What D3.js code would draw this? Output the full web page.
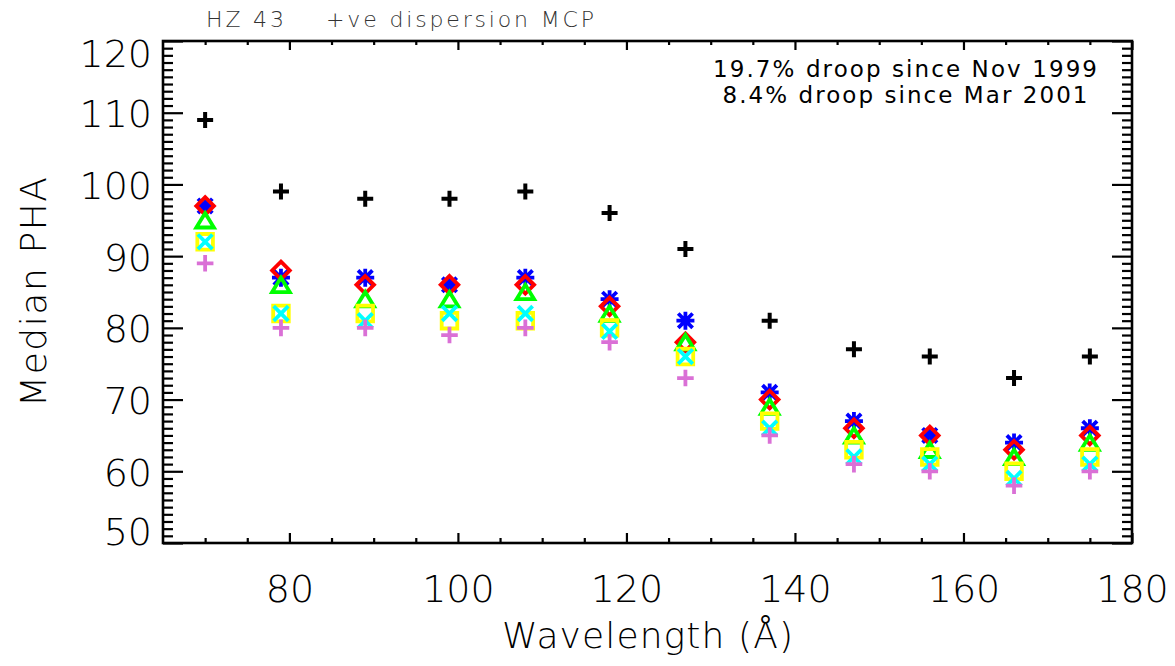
<!DOCTYPE html>
<html>
<head>
<meta charset="utf-8">
<script src="https://cdn.jsdelivr.net/npm/d3@7"></script>
<style>
  body { margin: 0; background: #fff; }
  svg { display: block; }
</style>
</head>
<body>
<div id="chart"></div>
<script>
// wavelengths of the measured bins (Angstrom)
var wavelength = [70, 79, 89, 99, 108, 118, 127, 137, 147, 156, 166, 175];

// median PHA, one list per epoch
var phaBlackPlus  = [109, 99, 98, 98, 99, 96, 91, 81, 77, 76, 73, 76];
var phaBlueStar   = [97, 87, 87, 86, 87, 84, 81, 71, 67, 65, 64, 66];
var phaRedDiamond = [97, 88, 86, 86, 86, 83, 78, 70, 66, 65, 63, 65];
var phaGreenTri   = [95, 86, 84, 84, 85, 82, 78, 69, 65, 63, 62, 64];
var phaYellowSq   = [92, 82, 82, 81, 81, 80, 76, 67, 63, 62, 60, 62];
var phaCyanX      = [92, 82, 81, 82, 82, 79.5, 76, 66, 62, 61, 59, 61];
var phaPurplePlus = [89, 80, 80, 79, 80, 78, 73, 65, 61, 60, 58, 60];

var xMajor = [80, 100, 120, 140, 160, 180];
var yMajor = [50, 60, 70, 80, 90, 100, 110, 120];

var titleText = "HZ 43    +ve dispersion MCP";
var noteLines = ["19.7% droop since Nov 1999", "8.4% droop since Mar 2001"];

var margin = {top: 41, right: 43, bottom: 123, left: 163},
    width = 1175 - margin.left - margin.right,
    height = 666 - margin.top - margin.bottom;

var x = d3.scaleLinear().domain([65, 180]).range([0, width]);
var y = d3.scaleLinear().domain([50, 120]).range([height, 0]);

var xMinor = d3.range(70, 180, 5).filter(function(d) { return d % 20 != 0; });
var yMinor = d3.range(51, 120, 1).filter(function(d) { return d % 10 != 0; });

var svg = d3.select("#chart").append("svg")
    .attr("width", 1175)
    .attr("height", 666);
svg.append("rect").attr("width", 1175).attr("height", 666).attr("fill", "#fff");

var g = svg.append("g")
    .attr("transform", "translate(" + margin.left + "," + margin.top + ")");

var tickFont = "'DejaVu Sans', sans-serif";

function styleTicks(sel) {
    sel.select(".domain").remove();
    sel.selectAll("line").attr("stroke", "#000").attr("stroke-width", 2.2);
}

// left axis (labels) + minor
g.append("g")
    .call(d3.axisLeft(y).tickValues(yMajor).tickSize(-20).tickPadding(11).tickFormat(d3.format("d")))
    .call(styleTicks)
    .call(function(s) {
        s.selectAll("text")
            .attr("font-family", tickFont)
            .attr("font-size", 38)
            .attr("font-weight", 200)
            .attr("fill", "#000")
            .attr("dy", function(d) {
                if (d == 120) return 25;
                if (d == 50) return 1;
                return 14;
            });
    });
g.append("g")
    .call(d3.axisLeft(y).tickValues(yMinor).tickSize(-10).tickFormat(""))
    .call(styleTicks);

// right axis
g.append("g").attr("transform", "translate(" + width + ",0)")
    .call(d3.axisRight(y).tickValues(yMajor).tickSize(-20).tickFormat(""))
    .call(styleTicks);
g.append("g").attr("transform", "translate(" + width + ",0)")
    .call(d3.axisRight(y).tickValues(yMinor).tickSize(-10).tickFormat(""))
    .call(styleTicks);

// bottom axis (labels) + minor
g.append("g").attr("transform", "translate(0," + height + ")")
    .call(d3.axisBottom(x).tickValues(xMajor).tickSize(-10).tickPadding(0).tickFormat(d3.format("d")))
    .call(styleTicks)
    .call(function(s) {
        s.selectAll("text")
            .attr("font-family", tickFont)
            .attr("font-size", 38)
            .attr("font-weight", 200)
            .attr("fill", "#000")
            .attr("y", 59)
            .attr("dy", null);
    });
g.append("g").attr("transform", "translate(0," + height + ")")
    .call(d3.axisBottom(x).tickValues(xMinor).tickSize(-5).tickFormat(""))
    .call(styleTicks);

// top axis
g.append("g")
    .call(d3.axisTop(x).tickValues(xMajor).tickSize(-9).tickFormat(""))
    .call(styleTicks);
g.append("g")
    .call(d3.axisTop(x).tickValues(xMinor).tickSize(-4).tickFormat(""))
    .call(styleTicks);

// frame
g.append("rect")
    .attr("width", width)
    .attr("height", height)
    .attr("fill", "none")
    .attr("stroke", "#000")
    .attr("stroke-width", 2.6);

// IDL style line symbols
var symbols = {
    plus: function(s) { return "M" + (-s) + ",0H" + s + "M0," + (-s) + "V" + s; },
    star: function(s) {
        var d = s * 0.8;
        return "M" + (-s) + ",0H" + s + "M0," + (-s) + "V" + s +
            "M" + (-d) + "," + (-d) + "L" + d + "," + d +
            "M" + (-d) + "," + d + "L" + d + "," + (-d);
    },
    diamond: function(s) { return "M0," + (-s) + "L" + s + ",0L0," + s + "L" + (-s) + ",0Z"; },
    triangle: function(s) { var h = s * 0.82; return "M" + (-s) + "," + h + "L0," + (-h) + "L" + s + "," + h + "Z"; },
    square: function(s) { return "M" + (-s) + "," + (-s) + "H" + s + "V" + s + "H" + (-s) + "Z"; },
    cross: function(s) { return "M" + (-s) + "," + (-s) + "L" + s + "," + s + "M" + (-s) + "," + s + "L" + s + "," + (-s); }
};

var series = [
    {values: phaBlackPlus,  color: "#000000", sym: "plus",     size: 8, sw: 4},
    {values: phaBlueStar,   color: "#0000FF", sym: "star",     size: 9, sw: 3.8},
    {values: phaRedDiamond, color: "#FF0000", sym: "diamond",  size: 8.8, sw: 3.8},
    {values: phaGreenTri,   color: "#00FF00", sym: "triangle", size: 8.8, sw: 3.8},
    {values: phaYellowSq,   color: "#FFFF00", sym: "square",   size: 7.8, sw: 3.8},
    {values: phaCyanX,      color: "#00FFFF", sym: "cross",    size: 7.3, sw: 3.8},
    {values: phaPurplePlus, color: "#DA70D6", sym: "plus",     size: 8.3, sw: 3.8}
];

series.forEach(function(s) {
    g.append("g").selectAll("path")
        .data(wavelength.map(function(w, i) { return {x: w, y: s.values[i]}; }))
        .enter().append("path")
        .attr("transform", function(d) { return "translate(" + x(d.x) + "," + y(d.y) + ")"; })
        .attr("d", symbols[s.sym](s.size))
        .attr("fill", "none")
        .attr("stroke", s.color)
        .attr("stroke-width", s.sw);
});

// axis titles
svg.append("text")
    .attr("x", margin.left + width / 2)
    .attr("y", 648)
    .attr("text-anchor", "middle")
    .attr("font-family", tickFont)
    .attr("font-size", 36)
    .attr("font-weight", 200)
    .attr("textLength", 291)
    .attr("lengthAdjust", "spacing")
    .text("Wavelength (Å)");

svg.append("text")
    .attr("transform", "translate(46," + (margin.top + height / 2) + ") rotate(-90)")
    .attr("text-anchor", "middle")
    .attr("font-family", tickFont)
    .attr("font-size", 36)
    .attr("font-weight", 200)
    .attr("textLength", 230)
    .attr("lengthAdjust", "spacing")
    .text("Median PHA");

// title
svg.append("text")
    .attr("x", 206)
    .attr("y", 27)
    .attr("font-family", tickFont)
    .attr("font-size", 22)
    .attr("font-weight", 200)
    .attr("fill", "#333")
    .attr("textLength", 388)
    .attr("lengthAdjust", "spacing")
    .style("white-space", "pre")
    .text(titleText);

// droop notes
var noteWidths = [384, 365];
svg.selectAll(".note")
    .data(noteLines)
    .enter().append("text")
    .attr("class", "note")
    .attr("x", 905)
    .attr("y", function(d, i) { return 77 + i * 26; })
    .attr("text-anchor", "middle")
    .attr("font-family", tickFont)
    .attr("font-size", 23)
    .attr("textLength", function(d, i) { return noteWidths[i]; })
    .attr("lengthAdjust", "spacing")
    .text(function(d) { return d; });
</script>
</body>
</html>
